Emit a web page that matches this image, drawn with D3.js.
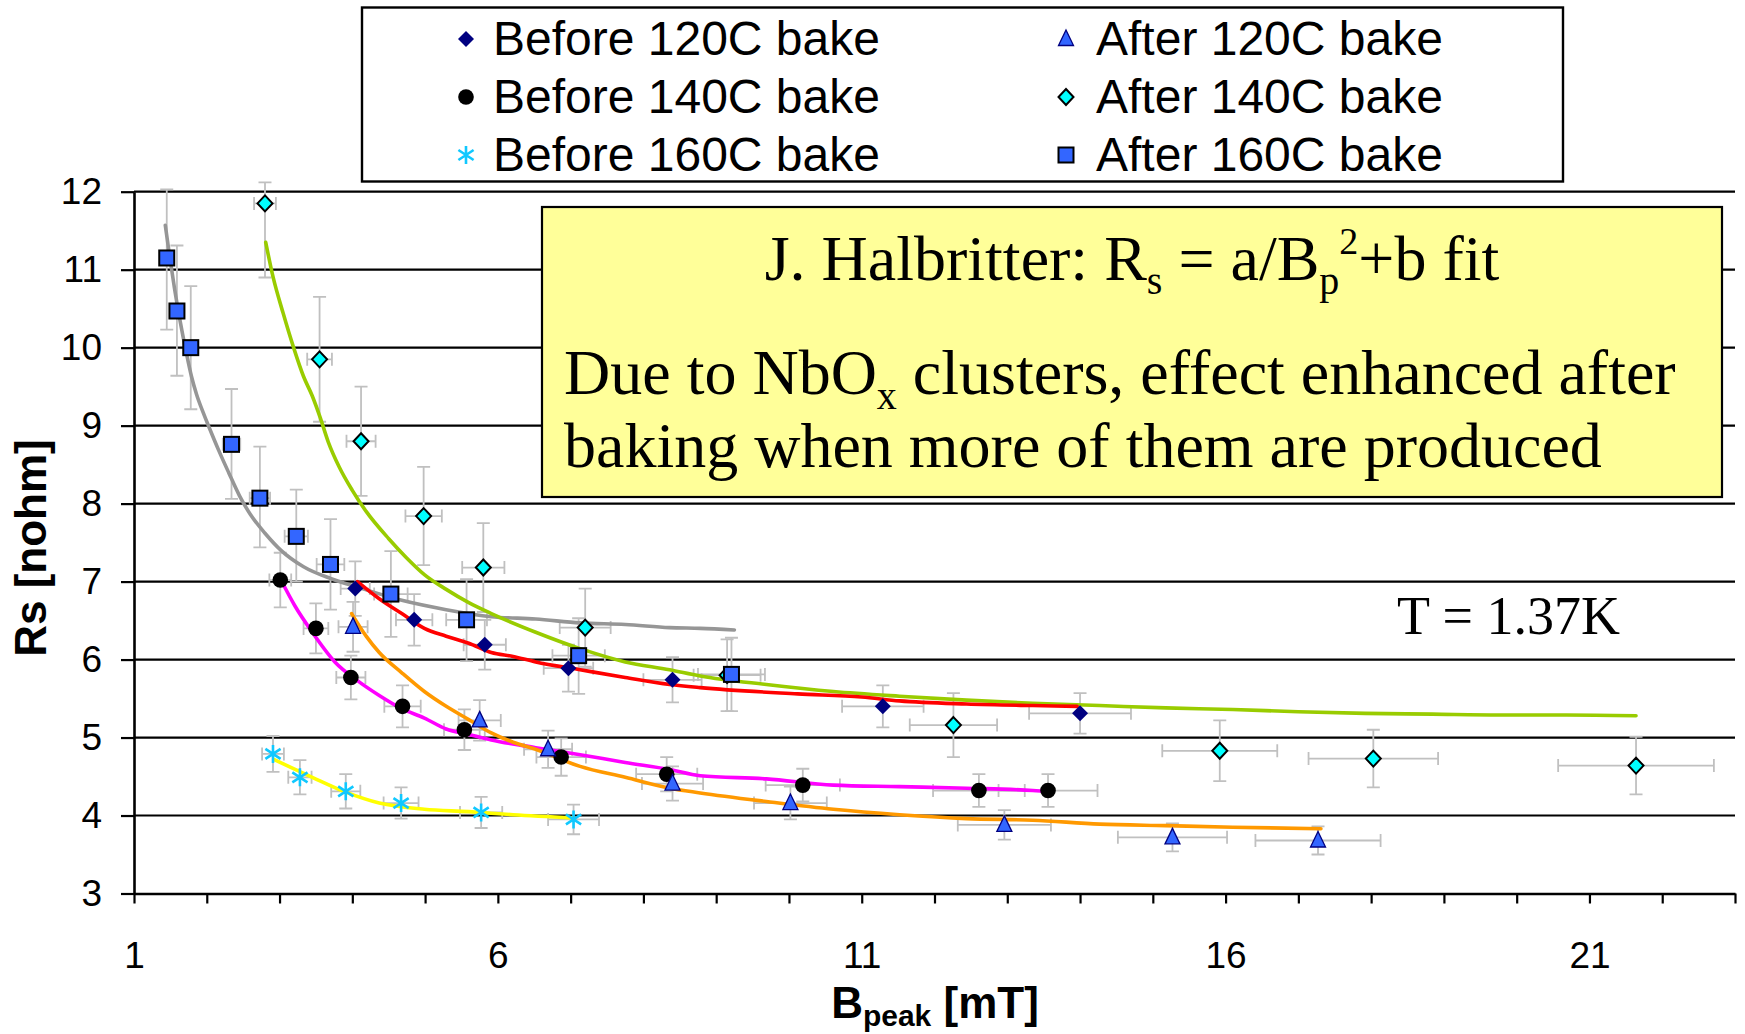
<!DOCTYPE html>
<html>
<head>
<meta charset="utf-8">
<script src="https://cdn.jsdelivr.net/npm/d3@7"></script>
<style>
  html, body { margin: 0; padding: 0; background: #ffffff; }
  svg { display: block; }
</style>
</head>
<body>
<svg id="chart" width="1745" height="1034"></svg>
<script>
// Surface resistance vs peak field, T = 1.37 K.
// Each point: [B_peak (mT), Rs (nOhm), B error, Rs error below, Rs error above]
const before120 = [
  [4.04, 6.91, 0.20, 0.35, 0.35],
  [4.85, 6.51, 0.25, 0.33, 0.33],
  [5.82, 6.19, 0.29, 0.32, 0.32],
  [6.97, 5.89, 0.34, 0.30, 0.30],
  [8.40, 5.74, 0.40, 0.29, 0.29],
  [11.29, 5.40, 0.56, 0.27, 0.27],
  [14.00, 5.31, 0.70, 0.26, 0.26]
];
const before140 = [
  [3.01, 7.02, 0.15, 0.35, 0.35],
  [3.50, 6.40, 0.17, 0.32, 0.32],
  [3.98, 5.77, 0.20, 0.28, 0.28],
  [4.69, 5.40, 0.25, 0.27, 0.27],
  [5.54, 5.10, 0.28, 0.26, 0.26],
  [6.87, 4.75, 0.34, 0.24, 0.24],
  [8.32, 4.53, 0.42, 0.22, 0.22],
  [10.19, 4.39, 0.51, 0.21, 0.21],
  [12.61, 4.32, 0.63, 0.21, 0.21],
  [13.56, 4.32, 0.68, 0.21, 0.21]
];
const before160 = [
  [2.91, 4.79, 0.15, 0.23, 0.23],
  [3.28, 4.49, 0.16, 0.22, 0.22],
  [3.91, 4.31, 0.20, 0.22, 0.22],
  [4.67, 4.16, 0.24, 0.20, 0.20],
  [5.77, 4.04, 0.29, 0.20, 0.20],
  [7.04, 3.95, 0.35, 0.19, 0.19]
];
const after120 = [
  [4.01, 6.42, 0.20, 0.32, 0.32],
  [5.75, 5.22, 0.29, 0.26, 0.26],
  [6.69, 4.85, 0.33, 0.24, 0.24],
  [8.40, 4.41, 0.42, 0.22, 0.22],
  [10.02, 4.16, 0.50, 0.21, 0.21],
  [12.96, 3.88, 0.64, 0.19, 0.19],
  [15.27, 3.72, 0.75, 0.18, 0.18],
  [17.27, 3.68, 0.86, 0.18, 0.18]
];
const after140 = [
  [2.80, 11.85, 0.15, 0.95, 0.27],
  [3.55, 9.85, 0.17, 0.80, 0.80],
  [4.12, 8.80, 0.20, 0.70, 0.70],
  [4.98, 7.84, 0.25, 0.63, 0.63],
  [5.80, 7.18, 0.29, 0.57, 0.57],
  [7.20, 6.41, 0.35, 0.50, 0.50],
  [9.15, 5.80, 0.46, 0.46, 0.46],
  [12.26, 5.16, 0.60, 0.41, 0.41],
  [15.92, 4.83, 0.79, 0.39, 0.39],
  [18.03, 4.73, 0.89, 0.37, 0.37],
  [21.64, 4.64, 1.07, 0.37, 0.37]
];
const after160 = [
  [1.45, 11.15, 0.07, 0.92, 0.88],
  [1.59, 10.47, 0.08, 0.83, 0.84],
  [1.78, 10.00, 0.09, 0.79, 0.79],
  [2.34, 8.76, 0.12, 0.70, 0.71],
  [2.73, 8.07, 0.14, 0.63, 0.66],
  [3.23, 7.58, 0.16, 0.58, 0.60],
  [3.70, 7.22, 0.19, 0.58, 0.58],
  [4.53, 6.84, 0.23, 0.55, 0.55],
  [5.57, 6.51, 0.28, 0.53, 0.52],
  [7.11, 6.05, 0.36, 0.49, 0.48],
  [9.21, 5.81, 0.46, 0.47, 0.47]
];

// Halbritter a/Bp^2 + b fit curves: [B_peak, Rs]
const fitBefore120 = [
  [4.07, 7.00], [4.37, 6.78], [4.68, 6.59], [4.99, 6.40], [5.29, 6.30], [5.60, 6.21],
  [5.91, 6.09], [6.21, 6.04], [6.52, 5.97], [7.13, 5.87], [7.75, 5.77], [8.36, 5.68],
  [8.78, 5.64], [10.12, 5.56], [11.00, 5.52], [11.52, 5.47], [12.44, 5.43], [13.35, 5.41],
  [13.96, 5.40]
];
const fitBefore140 = [
  [3.02, 7.02], [3.21, 6.69], [3.45, 6.35], [3.76, 5.97], [4.07, 5.73], [4.37, 5.54],
  [4.68, 5.37], [4.99, 5.25], [5.29, 5.11], [5.60, 5.04], [5.91, 4.97], [6.52, 4.87],
  [7.13, 4.78], [7.75, 4.68], [8.36, 4.59], [8.78, 4.51], [9.69, 4.47], [10.61, 4.39],
  [11.52, 4.37], [12.44, 4.35], [13.35, 4.32], [13.61, 4.30]
];
const fitBefore160 = [
  [2.92, 4.72], [3.45, 4.49], [3.91, 4.30], [4.37, 4.16], [4.99, 4.08], [5.60, 4.05],
  [6.21, 4.01], [7.04, 3.97]
];
const fitAfter120 = [
  [3.99, 6.59], [4.19, 6.30], [4.37, 6.09], [4.68, 5.83], [4.99, 5.59], [5.29, 5.40],
  [5.60, 5.23], [5.91, 5.06], [6.21, 4.94], [6.52, 4.85], [7.13, 4.63], [7.75, 4.49],
  [8.36, 4.35], [8.78, 4.29], [9.69, 4.18], [10.61, 4.08], [11.52, 4.01], [12.44, 3.96],
  [13.35, 3.94], [14.27, 3.89], [15.18, 3.87], [16.10, 3.85], [17.31, 3.83]
];
const fitAfter140 = [
  [2.81, 11.35], [2.91, 10.91], [3.05, 10.44], [3.19, 10.01], [3.33, 9.63], [3.45, 9.38],
  [3.56, 9.10], [3.67, 8.79], [3.82, 8.47], [4.00, 8.17], [4.19, 7.90], [4.50, 7.55],
  [4.74, 7.31], [4.99, 7.09], [5.29, 6.90], [5.60, 6.73], [5.91, 6.59], [6.52, 6.35],
  [7.13, 6.14], [7.75, 5.97], [8.36, 5.87], [8.78, 5.79], [9.69, 5.68], [10.61, 5.59],
  [11.52, 5.53], [12.44, 5.48], [13.35, 5.44], [14.27, 5.41], [15.18, 5.38], [16.10, 5.36],
  [17.00, 5.33], [17.92, 5.31], [18.84, 5.30], [19.76, 5.29], [20.68, 5.29], [21.64, 5.28]
];
const fitAfter160 = [
  [1.43, 11.57], [1.49, 11.17], [1.56, 10.74], [1.63, 10.36], [1.72, 9.93], [1.79, 9.63],
  [1.86, 9.40], [1.95, 9.17], [2.04, 8.96], [2.17, 8.67], [2.30, 8.40], [2.45, 8.10],
  [2.60, 7.86], [2.80, 7.62], [3.02, 7.40], [3.33, 7.19], [3.70, 7.04], [4.07, 6.93],
  [4.68, 6.76], [5.29, 6.64], [5.91, 6.55], [6.52, 6.52], [7.13, 6.47], [7.75, 6.45],
  [8.36, 6.41], [8.78, 6.40], [9.25, 6.38]
];

const seriesNames = ["Before 120C bake", "Before 140C bake", "Before 160C bake",
                     "After 120C bake", "After 140C bake", "After 160C bake"];
const xLabelTicks = [1, 6, 11, 16, 21];
const yTicks = [3, 4, 5, 6, 7, 8, 9, 10, 11, 12];

// ---- layout ----
const svg = d3.select("#chart");
const plot = { left: 134, right: 1735, top: 191.7, bottom: 893.5 };
const x = d3.scaleLinear().domain([1, 23]).range([plot.left, plot.right]);
const y = d3.scaleLinear().domain([3, 12]).range([plot.bottom, plot.top]);

const SANS = "Arial, 'Liberation Sans', Helvetica, sans-serif";
const SERIF = "'Times New Roman', 'Liberation Serif', Times, serif";

// marker shapes
const markers = {
  navyDiamond: g => g.append("path").attr("d", "M0,-8L8,0L0,8L-8,0Z").attr("fill", "#000080"),
  dot: g => g.append("circle").attr("r", 7.8).attr("fill", "#000000"),
  star: g => g.append("path")
      .attr("d", "M0,-9V9M-7.6,-5L7.6,5M-7.6,5L7.6,-5")
      .attr("stroke", "#10c8ff").attr("stroke-width", 2.6).attr("fill", "none"),
  triangle: g => g.append("path").attr("d", "M0,-9L7.5,6.5L-7.5,6.5Z")
      .attr("fill", "#3366ff").attr("stroke", "#000080").attr("stroke-width", 1.3),
  cyanDiamond: g => g.append("path").attr("d", "M0,-8L7.5,0L0,8L-7.5,0Z")
      .attr("fill", "#00ffff").attr("stroke", "#000000").attr("stroke-width", 2),
  square: g => g.append("rect").attr("x", -7.5).attr("y", -7.5).attr("width", 15).attr("height", 15)
      .attr("fill", "#3366ff").attr("stroke", "#000000").attr("stroke-width", 2)
};

const series = [
  { name: seriesNames[0], data: before120, marker: markers.navyDiamond },
  { name: seriesNames[1], data: before140, marker: markers.dot },
  { name: seriesNames[2], data: before160, marker: markers.star },
  { name: seriesNames[3], data: after120, marker: markers.triangle },
  { name: seriesNames[4], data: after140, marker: markers.cyanDiamond },
  { name: seriesNames[5], data: after160, marker: markers.square }
];
const fits = [
  { data: fitAfter160, color: "#969696" },
  { data: fitAfter140, color: "#99cc00" },
  { data: fitBefore120, color: "#ff0000" },
  { data: fitBefore140, color: "#ff00ff" },
  { data: fitAfter120, color: "#ff9900" },
  { data: fitBefore160, color: "#ffff00" }
];

// ---- gridlines ----
svg.append("g").selectAll("line").data(yTicks.filter(v => v > 3)).join("line")
  .attr("x1", plot.left).attr("x2", plot.right)
  .attr("y1", d => y(d)).attr("y2", d => y(d))
  .attr("stroke", "#000").attr("stroke-width", 2.2);

// ---- axes ----
const xAxis = d3.axisBottom(x)
  .tickValues(d3.range(1, 24))
  .tickSize(10).tickSizeOuter(0)
  .tickFormat(d => xLabelTicks.includes(d) ? String(d) : "");
const gx = svg.append("g").attr("transform", `translate(0,${plot.bottom})`).call(xAxis);
gx.select(".domain").attr("stroke", "#000").attr("stroke-width", 2.6);
gx.selectAll(".tick line").attr("stroke", "#000").attr("stroke-width", 2.2);
gx.selectAll(".tick text").attr("y", 74).attr("dy", 0)
  .attr("font-family", SANS).attr("font-size", 37).attr("fill", "#000");

const yAxis = d3.axisLeft(y).tickValues(yTicks).tickSize(13).tickSizeOuter(0).tickPadding(19)
  .tickFormat(d3.format("d"));
const gy = svg.append("g").attr("transform", `translate(${plot.left},0)`).call(yAxis);
gy.select(".domain").attr("stroke", "#000").attr("stroke-width", 2.6);
gy.selectAll(".tick line").attr("stroke", "#000").attr("stroke-width", 2.2);
gy.selectAll(".tick text").attr("font-family", SANS).attr("font-size", 37).attr("fill", "#000");

// ---- annotation box ----
const note = svg.append("g");
note.append("rect")
  .attr("x", 542).attr("y", 207).attr("width", 1180).attr("height", 290)
  .attr("fill", "#ffff99").attr("stroke", "#000").attr("stroke-width", 2.2);
const l1 = note.append("text").attr("x", 1132).attr("y", 280)
  .attr("text-anchor", "middle").attr("font-family", SERIF).attr("font-size", 64);
l1.append("tspan").text("J. Halbritter: R");
l1.append("tspan").attr("font-size", 40).attr("dy", 14).text("s");
l1.append("tspan").attr("dy", -14).text(" = a/B");
l1.append("tspan").attr("font-size", 40).attr("dy", 14).text("p");
l1.append("tspan").attr("font-size", 38).attr("dy", -40).text("2");
l1.append("tspan").attr("dy", 26).text("+b fit");

const l2 = note.append("text").attr("x", 564).attr("y", 394)
  .attr("font-family", SERIF).attr("font-size", 64);
l2.append("tspan").text("Due to NbO");
l2.append("tspan").attr("font-size", 40).attr("dy", 15).text("x");
l2.append("tspan").attr("dy", -15).text(" clusters, effect enhanced after");
note.append("text").attr("x", 564).attr("y", 467)
  .attr("font-family", SERIF).attr("font-size", 64)
  .text("baking when more of them are produced");

svg.append("text").attr("x", 1397).attr("y", 634)
  .attr("font-family", SERIF).attr("font-size", 54).text("T = 1.37K");

// ---- error bars ----
const errG = svg.append("g").attr("stroke", "#c0c0c0").attr("stroke-width", 1.8).attr("fill", "none");
const cap = 6.5;
series.forEach(s => {
  s.data.forEach(([bx, rs, dx, dlo, dhi]) => {
    const cx = x(bx), cy = y(rs);
    const yl = y(rs - dlo), yh = y(rs + dhi);
    const xl = x(bx - dx), xr = x(bx + dx);
    errG.append("path").attr("d",
      `M${cx},${yh}V${yl}M${cx - cap},${yh}H${cx + cap}M${cx - cap},${yl}H${cx + cap}` +
      `M${xl},${cy}H${xr}M${xl},${cy - cap}V${cy + cap}M${xr},${cy - cap}V${cy + cap}`);
  });
});

// ---- fit curves ----
const line = d3.line().x(d => x(d[0])).y(d => y(d[1])).curve(d3.curveMonotoneX);
svg.append("g").selectAll("path").data(fits).join("path")
  .attr("d", d => line(d.data))
  .attr("fill", "none").attr("stroke", d => d.color)
  .attr("stroke-width", 3.6).attr("stroke-linejoin", "round").attr("stroke-linecap", "round");

// ---- markers ----
series.forEach(s => {
  s.data.forEach(p => {
    const g = svg.append("g").attr("transform", `translate(${x(p[0])},${y(p[1])})`);
    s.marker(g);
  });
});

// ---- axis titles ----
svg.append("text")
  .attr("transform", "translate(46,548) rotate(-90)")
  .attr("text-anchor", "middle")
  .attr("font-family", SANS).attr("font-weight", "bold").attr("font-size", 44)
  .text("Rs [nohm]");

const xt = svg.append("text").attr("x", 935).attr("y", 1018).attr("text-anchor", "middle")
  .attr("font-family", SANS).attr("font-weight", "bold").attr("font-size", 44);
xt.append("tspan").text("B");
xt.append("tspan").attr("font-size", 30).attr("dy", 8).text("peak");
xt.append("tspan").attr("dy", -8).text(" [mT]");

// ---- legend ----
const legend = svg.append("g");
legend.append("rect")
  .attr("x", 362).attr("y", 7.5).attr("width", 1201).attr("height", 174)
  .attr("fill", "#fff").attr("stroke", "#000").attr("stroke-width", 2.4);
const legendCols = [{ mx: 466, tx: 493 }, { mx: 1066, tx: 1096 }];
const legendRows = [39, 97, 155];
series.forEach((s, i) => {
  const col = legendCols[Math.floor(i / 3)], ry = legendRows[i % 3];
  const g = legend.append("g").attr("transform", `translate(${col.mx},${ry})`);
  s.marker(g);
  legend.append("text").attr("x", col.tx).attr("y", ry + 16)
    .attr("font-family", SANS).attr("font-size", 48).attr("fill", "#000")
    .text(s.name);
});
</script>
</body>
</html>
